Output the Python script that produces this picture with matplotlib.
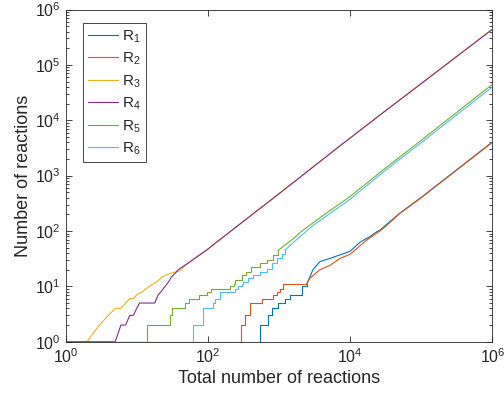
import numpy as np
import matplotlib
matplotlib.use('Agg')
import matplotlib.pyplot as plt
from matplotlib.ticker import FixedLocator, LogLocator, NullLocator, NullFormatter

plt.rcParams['font.family'] = ['Liberation Sans', 'DejaVu Sans']
plt.rcParams['mathtext.fontset'] = 'custom'
plt.rcParams['mathtext.rm'] = 'Liberation Sans'
plt.rcParams['mathtext.it'] = 'Liberation Sans'
plt.rcParams['mathtext.bf'] = 'Liberation Sans'

# step part (drawn as steps) and smooth tail (straight segments) for each reaction
r1_step_x = [1, 540, 710, 789, 980, 1214, 1428, 2090, 2450]
r1_step_y = [1, 2, 3, 4, 5, 6, 7, 10, 11]
r1_x = [2450, 2730, 3000, 3770, 5210, 7200, 1e4, 1.38e4, 1.9e4, 2.37e4, 2.63e4, 5e4, 1e5, 1e6]
r1_y = [11, 15, 20, 28, 32, 37, 43, 63, 79, 97, 104, 210, 405, 4050]

r2_step_x = [1, 292, 333, 390, 571, 830, 929, 1032, 1150, 2450]
r2_step_y = [1, 2, 3, 5, 6, 7, 8, 9, 11, 11]
r2_x = [2450, 2720, 3770, 5210, 7200, 1e4, 1.7e4, 2.93e4, 5e4, 1e5, 1e6]
r2_y = [11, 14, 20, 24, 32, 38, 68, 111, 208, 400, 4000]

r3_x = [1, 2, 3, 4, 5, 6, 7, 8, 9, 10, 12, 15, 19, 23, 29, 40, 50,
        100, 150, 1000, 7000, 2.6e4, 1e5, 1e6]
r3_y = [1, 1, 2, 3, 4, 4, 5, 6, 6, 7, 8, 10, 12, 15, 17, 19, 25,
        47, 71, 470, 3350, 12300, 46000, 440000]

r4_x = [1, 5, 6, 7, 8, 9, 10, 11, 18, 19, 20, 22, 25, 28, 31, 34.5, 38.4, 45, 50,
        100, 150, 1000, 7000, 2.6e4, 1e5, 1e6]
r4_y = [1, 1, 2, 2, 3, 3, 4, 5, 5, 6, 7, 8, 10, 12, 15, 17, 20, 23, 25,
        47, 71, 470, 3350, 12300, 46000, 440000]

r5_step_x = [1, 14, 29, 31, 48, 55, 75, 96, 110, 205, 230, 240, 300, 340, 400, 540, 670, 830, 980]
r5_step_y = [1, 2, 3, 4, 5, 6, 7, 8, 9, 10, 11, 13, 16, 18, 22, 26, 30, 37, 45]
r5_x = [980, 1600, 2000, 3000, 5000, 1e4, 2.9e4, 1e5, 1e6]
r5_y = [45, 73, 95, 140, 225, 420, 1260, 4350, 44500]

r6_step_x = [1, 62, 86, 119, 125, 148, 240, 268, 300, 315, 370, 435, 540, 670, 790, 930, 1090, 1210]
r6_step_y = [1, 2, 4, 5, 6, 8, 9, 10, 11, 12, 14, 16, 18, 21, 26, 32, 39, 45]
r6_x = [1210, 2000, 3000, 5000, 1e4, 2.9e4, 1e5, 1e6]
r6_y = [45, 80, 125, 200, 375, 1150, 3950, 40000]

colors = ['#0072BD', '#D95319', '#EDB120', '#7E2F8E', '#77AC30', '#4DBEEE']
labels = ['R$_1$', 'R$_2$', 'R$_3$', 'R$_4$', 'R$_5$', 'R$_6$']

fig = plt.figure(figsize=(5.04, 3.96), dpi=100)
ax = fig.add_axes([0.130, 0.137, 0.847, 0.839])

lw = 0.8
h1, = ax.plot(r1_step_x, r1_step_y, drawstyle='steps-post', color=colors[0], lw=lw)
ax.plot(r1_x, r1_y, color=colors[0], lw=lw)
h2, = ax.plot(r2_step_x, r2_step_y, drawstyle='steps-post', color=colors[1], lw=lw)
ax.plot(r2_x, r2_y, color=colors[1], lw=lw)
h3, = ax.plot(r3_x, r3_y, color=colors[2], lw=lw)
h4, = ax.plot(r4_x, r4_y, color=colors[3], lw=lw)
h5, = ax.plot(r5_step_x, r5_step_y, drawstyle='steps-post', color=colors[4], lw=lw)
ax.plot(r5_x, r5_y, color=colors[4], lw=lw)
h6, = ax.plot(r6_step_x, r6_step_y, drawstyle='steps-post', color=colors[5], lw=lw)
ax.plot(r6_x, r6_y, color=colors[5], lw=lw)

ax.set_xscale('log')
ax.set_yscale('log')
ax.set_xlim(1, 1e6)
ax.set_ylim(1, 1e6)

ax.xaxis.set_major_locator(FixedLocator([1, 1e2, 1e4, 1e6]))
ax.xaxis.set_minor_locator(NullLocator())
ax.yaxis.set_major_locator(LogLocator(base=10, numticks=10))
ax.yaxis.set_minor_locator(LogLocator(base=10, subs=np.arange(2, 10), numticks=20))
ax.yaxis.set_minor_formatter(NullFormatter())

gray = '#262626'
for s in ax.spines.values():
    s.set_color(gray)
    s.set_linewidth(0.6)
ax.tick_params(which='both', direction='in', top=True, right=True, colors=gray,
               labelcolor=gray, width=0.6)
ax.tick_params(which='major', length=4, labelsize=11.5)
ax.tick_params(axis='x', which='major', pad=4)
ax.tick_params(which='minor', length=2)

ax.set_xlabel('Total number of reactions', fontsize=13, color=gray, labelpad=3)
ax.set_ylabel('Number of reactions', fontsize=13, color=gray, labelpad=2)

leg = ax.legend([h1, h2, h3, h4, h5, h6], labels, loc='upper left',
                bbox_to_anchor=(0.04, 0.96), borderaxespad=0, fontsize=11,
                handlelength=2.0, handletextpad=0.25, labelspacing=0.4,
                borderpad=0.35, fancybox=False, framealpha=1)
leg.get_frame().set_edgecolor(gray)
leg.get_frame().set_linewidth(0.6)
for t in leg.get_texts():
    t.set_color(gray)

fig.savefig('out.png', dpi=100)
